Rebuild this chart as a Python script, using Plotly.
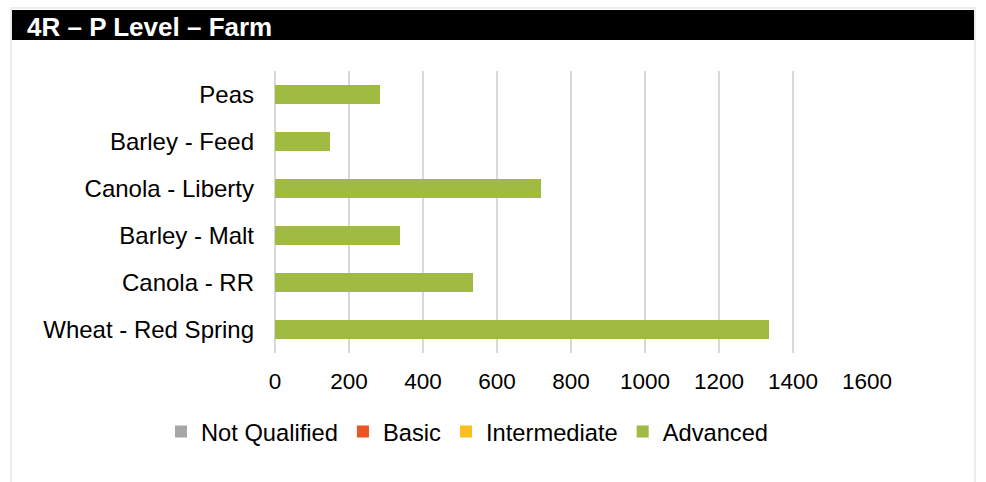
import plotly.graph_objects as go

# ---- data ----
categories = ["Peas", "Barley - Feed", "Canola - Liberty", "Barley - Malt", "Canola - RR", "Wheat - Red Spring"]
not_qualified = [0, 0, 0, 0, 0, 0]
basic = [0, 0, 0, 0, 0, 0]
intermediate = [0, 0, 0, 0, 0, 0]
advanced = [284, 149, 719, 339, 535, 1335]
series_names = ["Not Qualified", "Basic", "Intermediate", "Advanced"]
series_colors = ["#A6A6A6", "#EE5524", "#FCBE1C", "#A1BA41"]
x_ticks = [0, 200, 400, 600, 800, 1000, 1200, 1400, 1600]
title_text = "4R – P Level – Farm"

# ---- layout geometry ----
W, H = 986, 482
ML, MR, MT, MB = 275, 119, 71, 129
PW, PH = W - ML - MR, H - MT - MB


def px2x(px):
    return (px - ML) / PW


def px2y(py):
    return (H - MB - py) / PH


FONT = "Liberation Sans, Arial, sans-serif"

fig = go.Figure()
for name, vals, col in zip(series_names, [not_qualified, basic, intermediate, advanced], series_colors):
    fig.add_trace(go.Bar(
        y=categories, x=vals, name=name, orientation="h",
        marker=dict(color=col, line=dict(width=0)),
    ))

fig.update_layout(
    width=W, height=H,
    margin=dict(l=ML, r=MR, t=MT, b=MB, pad=0),
    paper_bgcolor="white", plot_bgcolor="white",
    barmode="stack", bargap=0.6,
    font=dict(family=FONT, color="#000000"),
    showlegend=True,
    legend=dict(
        orientation="h", traceorder="normal",
        xanchor="left", yanchor="middle",
        x=px2x(161), y=px2y(431.5),
        font=dict(family=FONT, size=23.7, color="#000000"),
        bgcolor="rgba(0,0,0,0)", itemclick=False,
    ),
    xaxis=dict(
        range=[0, 1600], tickvals=x_ticks, ticktext=[str(v) for v in x_ticks],
        showgrid=True, gridcolor="#D9D9D9", gridwidth=1.5,
        zeroline=True, zerolinecolor="#D9D9D9", zerolinewidth=1.5,
        showline=False, ticks="", ticklabelstandoff=12,
        tickfont=dict(family=FONT, size=22.5, color="#000000"),
        fixedrange=True,
    ),
    yaxis=dict(
        categoryorder="array", categoryarray=categories, autorange="reversed",
        showgrid=False, zeroline=False, showline=False, ticks="",
        ticklabelstandoff=20,
        tickfont=dict(family=FONT, size=24, color="#000000"),
        fixedrange=True,
    ),
    shapes=[
        dict(type="rect", xref="paper", yref="paper",
             x0=px2x(11), x1=px2x(975), y0=px2y(490), y1=px2y(8),
             line=dict(color="#EDEDED", width=2), fillcolor="rgba(0,0,0,0)", layer="below"),
        dict(type="rect", xref="paper", yref="paper",
             x0=px2x(12), x1=px2x(974), y0=px2y(40), y1=px2y(10),
             line=dict(width=0), fillcolor="#000000", layer="below"),
    ],
    annotations=[
        dict(text="<b>" + title_text + "</b>", xref="paper", yref="paper",
             x=px2x(25), y=px2y(27), xanchor="left", yanchor="middle",
             showarrow=False, font=dict(family=FONT, size=26, color="#FFFFFF")),
    ],
)

fig.write_html("out.html", config={"displayModeBar": False})
